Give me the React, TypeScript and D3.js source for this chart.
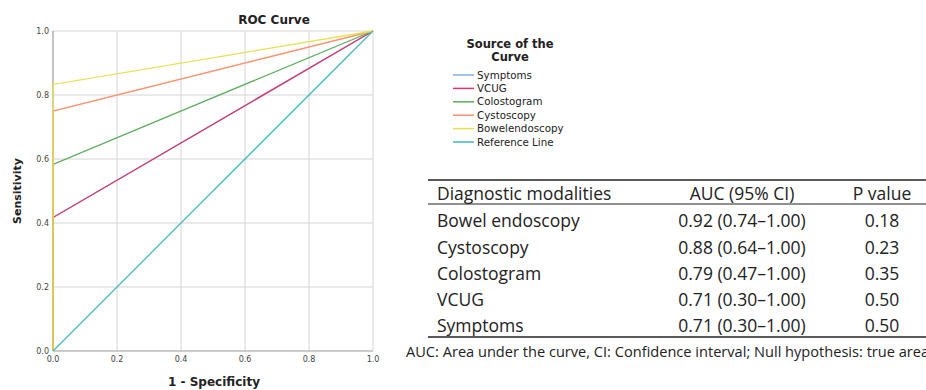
import * as d3 from 'd3'
import React, { useEffect, useRef } from 'react'

// ROC curves: each series goes (0,0) -> (0, sens) -> (1,1)
const seriesNames = ['Symptoms', 'VCUG', 'Colostogram', 'Cystoscopy', 'Bowelendoscopy', 'Reference Line']
const seriesColors = ['#7fb1e3', '#d93a6e', '#57ad5b', '#f7926e', '#e6e052', '#45b9bd']
const seriesPoints: [number, number][][] = [
  [[0, 0], [0, 0.417], [1, 1]],
  [[0, 0], [0, 0.417], [1, 1]],
  [[0, 0], [0, 0.583], [1, 1]],
  [[0, 0], [0, 0.75], [1, 1]],
  [[0, 0], [0, 0.833], [1, 1]],
  [[0, 0], [1, 1]]
]
const ticks = [0, 0.2, 0.4, 0.6, 0.8, 1.0]

const tableHeader = ['Diagnostic modalities', 'AUC (95% CI)', 'P value']
const modalities = ['Bowel endoscopy', 'Cystoscopy', 'Colostogram', 'VCUG', 'Symptoms']
const aucs = ['0.92 (0.74\u20131.00)', '0.88 (0.64\u20131.00)', '0.79 (0.47\u20131.00)', '0.71 (0.30\u20131.00)', '0.71 (0.30\u20131.00)']
const pvalues = ['0.18', '0.23', '0.35', '0.50', '0.50']
const footnote = 'AUC: Area under the curve, CI: Confidence interval; Null hypothesis: true area = 0.5'

export default function App() {
  const ref = useRef<SVGSVGElement>(null)

  useEffect(() => {
    const svg = d3.select(ref.current)
    svg.selectAll('*').remove()

    const x = d3.scaleLinear().domain([0, 1]).range([53, 373])
    const y = d3.scaleLinear().domain([0, 1]).range([351, 31])
    const tickFont = '"DejaVu Sans", sans-serif'

    const g = svg.append('g')

    // grid
    g.selectAll('.vgrid')
      .data(ticks.slice(1))
      .enter()
      .append('line')
      .attr('x1', d => x(d)).attr('x2', d => x(d))
      .attr('y1', y(0)).attr('y2', y(1))
      .attr('stroke', '#d4d4d4').attr('stroke-width', 1)
    g.selectAll('.hgrid')
      .data(ticks.slice(1))
      .enter()
      .append('line')
      .attr('x1', x(0)).attr('x2', x(1))
      .attr('y1', d => y(d)).attr('y2', d => y(d))
      .attr('stroke', '#d4d4d4').attr('stroke-width', 1)

    // axes lines
    g.append('line')
      .attr('x1', x(0)).attr('x2', x(1)).attr('y1', y(0)).attr('y2', y(0))
      .attr('stroke', '#9a9a9a').attr('stroke-width', 1.2)
    g.append('line')
      .attr('x1', x(0)).attr('x2', x(0)).attr('y1', y(0)).attr('y2', y(1))
      .attr('stroke', '#9a9a9a').attr('stroke-width', 1.2)

    // tick labels
    g.selectAll('.ytick')
      .data(ticks)
      .enter()
      .append('text')
      .attr('x', x(0) - 4)
      .attr('y', d => y(d) + 3)
      .attr('text-anchor', 'end')
      .style('font-family', tickFont)
      .style('font-size', '8px')
      .style('fill', '#444')
      .text(d => d.toFixed(1))
    g.selectAll('.xtick')
      .data(ticks)
      .enter()
      .append('text')
      .attr('x', d => x(d))
      .attr('y', y(0) + 11)
      .attr('text-anchor', 'middle')
      .style('font-family', tickFont)
      .style('font-size', '8px')
      .style('fill', '#444')
      .text(d => d.toFixed(1))

    // curves
    const line = d3.line<[number, number]>().x(d => x(d[0])).y(d => y(d[1]))
    g.selectAll('.curve')
      .data(seriesPoints)
      .enter()
      .append('path')
      .attr('d', d => line(d))
      .attr('fill', 'none')
      .attr('stroke', (d, i) => seriesColors[i])
      .attr('stroke-width', 1.3)

    // titles
    g.append('text')
      .attr('x', 274).attr('y', 24)
      .attr('text-anchor', 'middle')
      .style('font-family', tickFont)
      .style('font-weight', 'bold')
      .style('font-size', '12px')
      .style('fill', '#222')
      .text('ROC Curve')
    g.append('text')
      .attr('x', 214).attr('y', 386)
      .attr('text-anchor', 'middle')
      .style('font-family', tickFont)
      .style('font-weight', 'bold')
      .style('font-size', '12px')
      .style('fill', '#222')
      .text('1 - Specificity')
    g.append('text')
      .attr('transform', `translate(21,${y(0.5)}) rotate(-90)`)
      .attr('text-anchor', 'middle')
      .style('font-family', tickFont)
      .style('font-weight', 'bold')
      .style('font-size', '11px')
      .style('fill', '#222')
      .text('Sensitivity')

    // legend
    const leg = svg.append('g')
    leg.selectAll('.lt')
      .data(['Source of the', 'Curve'])
      .enter()
      .append('text')
      .attr('x', 510)
      .attr('y', (d, i) => 48 + i * 12.5)
      .attr('text-anchor', 'middle')
      .style('font-family', tickFont)
      .style('font-weight', 'bold')
      .style('font-size', '11.5px')
      .style('fill', '#222')
      .text(d => d)
    const items = leg.selectAll('.li')
      .data(seriesNames)
      .enter()
      .append('g')
      .attr('transform', (d, i) => `translate(453,${75 + i * 13.4})`)
    items.append('line')
      .attr('x1', 0).attr('x2', 21).attr('y1', 0).attr('y2', 0)
      .attr('stroke', (d, i) => seriesColors[i])
      .attr('stroke-width', 1.5)
    items.append('text')
      .attr('x', 24).attr('y', 3.5)
      .style('font-family', tickFont)
      .style('font-size', '10.3px')
      .style('fill', '#222')
      .text(d => d)

    // table
    const tbl = svg.append('g')
    const tFont = '"Open Sans", sans-serif'
    const rowY = [221, 248, 274, 300, 326]
    const colX = [437, 742, 882]
    tbl.append('line').attr('x1', 428).attr('x2', 926).attr('y1', 180).attr('y2', 180)
      .attr('stroke', '#222').attr('stroke-width', 1.5)
    tbl.append('line').attr('x1', 428).attr('x2', 926).attr('y1', 204).attr('y2', 204)
      .attr('stroke', '#222').attr('stroke-width', 1.2)
    tbl.append('line').attr('x1', 428).attr('x2', 926).attr('y1', 337).attr('y2', 337)
      .attr('stroke', '#222').attr('stroke-width', 1.5)
    tbl.selectAll('.th')
      .data(tableHeader)
      .enter()
      .append('text')
      .attr('x', (d, i) => colX[i])
      .attr('y', 194)
      .attr('dy', '0.35em')
      .attr('text-anchor', (d, i) => (i === 0 ? 'start' : 'middle'))
      .style('font-family', tFont)
      .style('font-size', '17.5px')
      .style('fill', '#222')
      .text(d => d)
    const cols = [modalities, aucs, pvalues]
    cols.forEach((col, ci) => {
      tbl.selectAll(`.c${ci}`)
        .data(col)
        .enter()
        .append('text')
        .attr('x', colX[ci])
        .attr('y', (d, i) => rowY[i])
        .attr('dy', '0.35em')
        .attr('text-anchor', ci === 0 ? 'start' : 'middle')
        .style('font-family', tFont)
        .style('font-size', '17.5px')
        .style('fill', '#222')
        .text(d => d)
    })
    // footnote runs off the right edge, as in the source figure
    tbl.append('text')
      .attr('x', 406).attr('y', 352).attr('dy', '0.35em')
      .style('font-family', tFont)
      .style('font-size', '14.6px')
      .style('fill', '#222')
      .text(footnote)
  }, [])

  return (
    <svg
      ref={ref}
      width="926"
      height="390"
      style={{ position: 'absolute', left: 0, top: 0, background: '#fff' }}
    />
  )
}
